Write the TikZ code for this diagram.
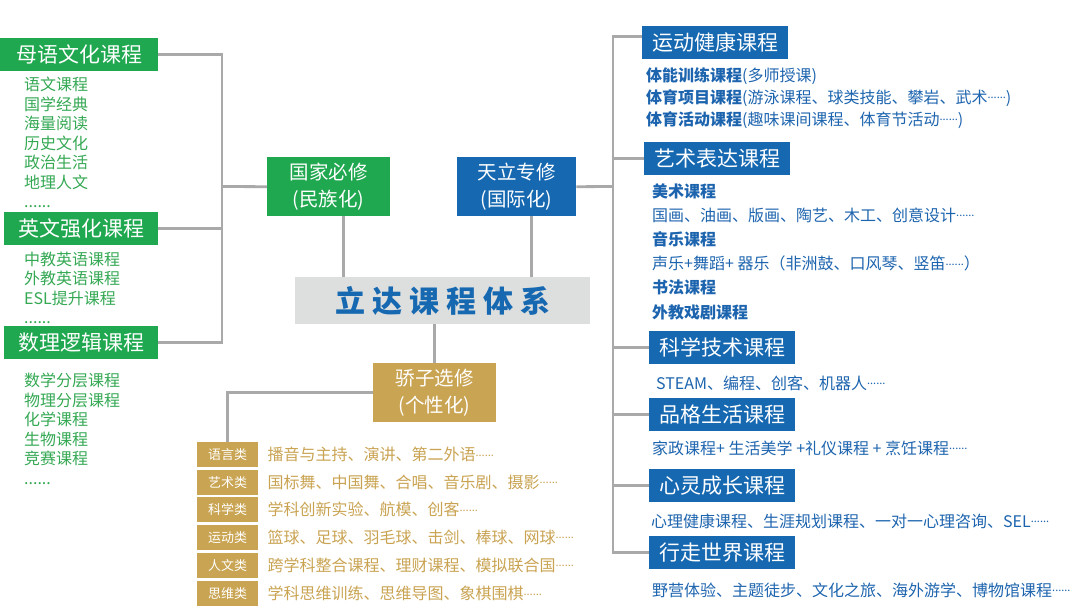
\documentclass[tikz,border=0pt]{standalone}
\usepackage{fontspec}
\setmainfont{Noto Sans CJK SC}
\usetikzlibrary{positioning}
\definecolor{kgreen}{HTML}{1FA84F}
\definecolor{tgreen}{HTML}{34A853}
\definecolor{kblue}{HTML}{1668B1}
\definecolor{tblue}{HTML}{1D64AE}
\definecolor{kgold}{HTML}{C9A452}
\definecolor{tgold}{HTML}{C9A352}
\definecolor{lgray}{HTML}{A9A9A9}
\definecolor{bggray}{HTML}{DDDEDE}
\newcommand\etcdots{\raisebox{4.5pt}{\fontsize{11}{12}\selectfont ......}}
\tikzset{
	link/.style={draw=lgray, line width=2.8pt},
	head/.style={text=white, font=\fontsize{21}{24}\selectfont, minimum height=33pt, inner sep=0pt, anchor=north west},
	greenhead/.style={head, fill=kgreen, minimum width=154pt},
	bluehead/.style={head, fill=kblue, minimum width=146pt},
	midbox/.style={text=white, font=\fontsize{19.5}{27}\selectfont, align=center, minimum height=59pt, inner sep=0pt, anchor=north west},
	tagbox/.style={fill=kgold, text=white, font=\fontsize{13}{15}\selectfont, minimum width=61pt, minimum height=25pt, inner sep=0pt, anchor=north west},
	greenlist/.style={text=tgreen, anchor=west, align=left, inner sep=0pt, font=\fontsize{16}{19.5}\selectfont},
	bluelist/.style={text=tblue, anchor=west, align=left, inner sep=0pt, font=\fontsize{16}{22}\selectfont},
	goldtext/.style={text=tgold, inner sep=0pt, font=\fontsize{16}{18}\selectfont},
}

\begin{document}
\begin{tikzpicture}[x=1pt,y=-1pt]
	\useasboundingbox (0,0) rectangle (1080,608);

	% national courses
	\node[greenhead, minimum width=158pt] (muyu) at (0,38) {母语文化课程};
	\node[greenlist] (muyulist) at (24,142.5) {语文课程\\国学经典\\海量阅读\\历史文化\\政治生活\\地理人文\\......};
	\node[greenhead] (yingwen) at (4,212) {英文强化课程};
	\node[greenlist] (yingwenlist) at (24,288) {中教英语课程\\外教英语课程\\ESL提升课程\\......};
	\node[greenhead] (shuli) at (4,326) {数理逻辑课程};
	\node[greenlist] (shulilist) at (24,429) {数学分层课程\\物理分层课程\\化学课程\\生物课程\\竞赛课程\\......};

	% centre
	\node[midbox, fill=kgreen, minimum width=123pt] (guojia) at (267,157) {国家必修\\(民族化)};
	\node[midbox, fill=kblue, minimum width=119pt] (tianli) at (457,157) {天立专修\\(国际化)};
	\node[fill=bggray, text=kblue, minimum width=295pt, minimum height=47pt, inner sep=0pt, anchor=north west,
		font=\fontsize{30}{32}\selectfont\bfseries] (tixi) at (295,277)
		{立\hspace{7pt}达\hspace{7pt}课\hspace{7pt}程\hspace{7pt}体\hspace{7pt}系};
	\node[midbox, fill=kgold, minimum width=123pt] (jiaozi) at (373,363) {骄子选修\\(个性化)};

	% electives
	\node[tagbox] (yuyan) at (197,442) {语言类};
	\node[goldtext, right=9pt of yuyan] (yuyantxt) {播音与主持、演讲、第二外语\etcdots};
	\node[tagbox] (yishulei) at (197,469.5) {艺术类};
	\node[goldtext, right=9pt of yishulei] (yishuleitxt) {国标舞、中国舞、合唱、音乐剧、摄影\etcdots};
	\node[tagbox] (kexuelei) at (197,497) {科学类};
	\node[goldtext, right=9pt of kexuelei] (kexueleitxt) {学科创新实验、航模、创客\etcdots};
	\node[tagbox] (yundonglei) at (197,524.5) {运动类};
	\node[goldtext, right=9pt of yundonglei] (yundongleitxt) {篮球、足球、羽毛球、击剑、棒球、网球\etcdots};
	\node[tagbox] (renwen) at (197,552.5) {人文类};
	\node[goldtext, right=9pt of renwen] (renwentxt) {跨学科整合课程、理财课程、模拟联合国\etcdots};
	\node[tagbox] (siwei) at (197,581) {思维类};
	\node[goldtext, right=9pt of siwei] (siweitxt) {学科思维训练、思维导图、象棋围棋\etcdots};

	% tianli courses
	\node[bluehead] (yundong) at (642,26) {运动健康课程};
	\node[bluelist] (yundonglist) at (646,98) {{\bfseries 体能训练课程}(多师授课)\\{\bfseries 体育项目课程}(游泳课程、球类技能、攀岩、武术\etcdots)\\{\bfseries 体育活动课程}(趣味课间课程、体育节活动\etcdots)};
	\node[bluehead] (yishu) at (644,142) {艺术表达课程};
	\node[bluelist, font=\fontsize{16}{24.2}\selectfont] (yishulist) at (652,251.5) {{\bfseries 美术课程}\\国画、油画、版画、陶艺、木工、创意设计\etcdots\\{\bfseries 音乐课程}\\声乐+舞蹈+ 器乐（非洲鼓、口风琴、竖笛\etcdots）\\{\bfseries 书法课程}\\{\bfseries 外教戏剧课程}};
	\node[bluehead] (kexue) at (649,331) {科学技术课程};
	\node[bluelist] (kexuetxt) at (656,383) {STEAM、编程、创客、机器人\etcdots};
	\node[bluehead] (pinge) at (649,398) {品格生活课程};
	\node[bluelist] (pingetxt) at (652,448) {家政课程+ 生活美学 +礼仪课程 + 烹饪课程\etcdots};
	\node[bluehead] (xinling) at (649,469) {心灵成长课程};
	\node[bluelist] (xinlingtxt) at (651,521) {心理健康课程、生涯规划课程、一对一心理咨询、SEL\etcdots};
	\node[bluehead] (xingzou) at (649,536) {行走世界课程};
	\node[bluelist] (xingzoutxt) at (652,590) {野营体验、主题徒步、文化之旅、海外游学、博物馆课程\etcdots};

	% connectors
	\coordinate (lspine) at (222,186.5);
	\coordinate (rspine) at (613,186.5);
	\draw[link] (muyu.east) -| (lspine) |- (shuli.east);
	\draw[link] (yingwen.east) -- (yingwen.east -| lspine);
	\draw[link] (lspine) -- (guojia.west);
	\draw[link] ([xshift=15pt]guojia.south) -- ([xshift=15pt]guojia.south |- tixi.north);
	\draw[link] ([xshift=15pt]tianli.south) -- ([xshift=15pt]tianli.south |- tixi.north);
	\draw[link] (tixi.south -| jiaozi.north) -- (jiaozi.north);
	\draw[link] (jiaozi.west) -| (yuyan.north);
	\draw[link] (tianli.east) -- (rspine);
	\draw[link] ([yshift=6pt]yundong.west) -- ++(-29,0) |- (xingzou.west);
	\draw[link] (yishu.west) -- (yishu.west -| rspine);
	\draw[link] (kexue.west) -- (kexue.west -| rspine);
	\draw[link] (pinge.west) -- (pinge.west -| rspine);
	\draw[link] (xinling.west) -- (xinling.west -| rspine);
\end{tikzpicture}
\end{document}
